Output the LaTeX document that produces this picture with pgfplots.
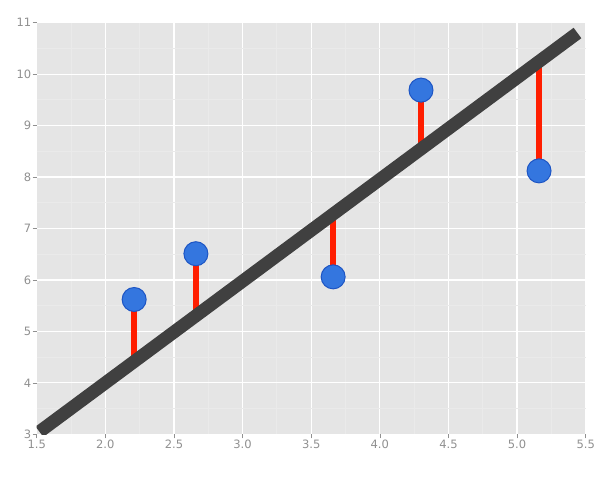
\documentclass[border=0pt]{standalone}
\usepackage{fontspec}
\setmainfont{DejaVu Sans}
\usepackage{pgfplots}
\pgfplotsset{compat=1.18}

\definecolor{bggray}{HTML}{E5E5E5}
\definecolor{minorgrid}{HTML}{EAEAEA}
\definecolor{fitline}{HTML}{404040}
\definecolor{resid}{HTML}{FF1E00}
\definecolor{ptfill}{HTML}{3476DF}
\definecolor{ptedge}{HTML}{1D55C4}
\definecolor{ticklab}{HTML}{909090}

\begin{document}
\begin{tikzpicture}
  \path[use as bounding box] (0,0) rectangle (611bp,483bp);
  \begin{axis}[
      at={(36.7bp,48.7bp)}, anchor=south west,
      scale only axis,
      width=549bp, height=411.6bp,
      xmin=1.5, xmax=5.5,
      ymin=3, ymax=11,
      xtick={1.5,2,...,5.5},
      ytick={3,4,...,11},
      minor x tick num=1,
      minor y tick num=1,
      grid=both,
      major grid style={white, line width=1.3bp},
      minor grid style={minorgrid, line width=0.8bp},
      axis background/.style={fill=bggray},
      axis line style={draw=none},
      tick align=outside,
      xtick pos=left, ytick pos=left,
      major tick length=4bp,
      minor tick length=0pt,
      tick style={ticklab, line width=0.6bp},
      tick label style={font=\fontsize{11.5bp}{13bp}\selectfont, text=ticklab},
      xticklabel style={yshift=2bp},
      yticklabel style={xshift=2bp},
      /pgf/number format/assume math mode=true,
      x tick label style={/pgf/number format/.cd, fixed, fixed zerofill, precision=1},
      y tick label style={/pgf/number format/.cd, fixed, precision=0},
    ]
    % residuals
    \addplot[resid, line width=5.5bp, forget plot] coordinates {(2.21,5.62) (2.21,4.41)};
    \addplot[resid, line width=5.5bp, forget plot] coordinates {(2.66,6.51) (2.66,5.29)};
    \addplot[resid, line width=5.5bp, forget plot] coordinates {(3.66,6.06) (3.66,7.26)};
    \addplot[resid, line width=5.5bp, forget plot] coordinates {(4.30,9.69) (4.30,8.52)};
    \addplot[resid, line width=5.5bp, forget plot] coordinates {(5.16,8.12) (5.16,10.21)};
    % fitted line
    \addplot[fitline, line width=13bp, line cap=butt] coordinates {(1.52,3.05) (5.44,10.80)};
    % observations
    \addplot[only marks, mark=*, mark size=12bp,
             mark options={fill=ptfill, draw=ptedge, line width=1bp}]
      coordinates {(2.21,5.62) (2.66,6.51) (3.66,6.06) (4.30,9.69) (5.16,8.12)};
  \end{axis}
\end{tikzpicture}
\end{document}
